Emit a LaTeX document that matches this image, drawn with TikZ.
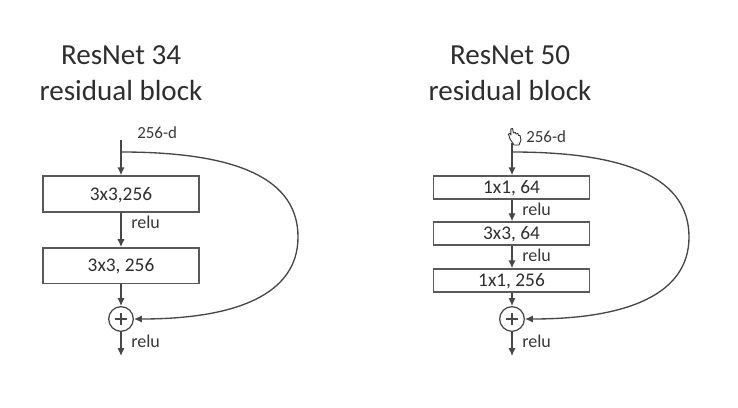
\documentclass[tikz,border=0pt]{standalone}
\usepackage{fontspec}
\setmainfont{Carlito}
\usetikzlibrary{arrows.meta}
\tikzset{
  px/.style={x=0.75pt,y=-0.75pt},
  blockbox/.style={draw=black!65,line width=1pt,minimum width=117pt,inner sep=0pt,font=\fontsize{14.5}{14.5}\selectfont,text=black!82,text height=9.2pt,text depth=0pt},
  conn/.style={draw=black!72,line width=1pt,-{Latex[length=6pt,width=5.5pt]}},
  plain/.style={draw=black!72,line width=0.9pt},
  lbl/.style={font=\fontsize{13.5}{14}\selectfont,text=black!78,inner sep=0pt,anchor=west},
  dlbl/.style={font=\fontsize{12.7}{14}\selectfont,text=black!78,inner sep=0pt,anchor=west},
  ttl/.style={font=\fontsize{21.8}{27}\selectfont,text=black!82,align=center,inner sep=0pt},
  sumnode/.style={circle,draw=black!72,line width=0.95pt,minimum size=18.5pt,inner sep=0pt}
}
\begin{document}
\begin{tikzpicture}[px]
\useasboundingbox (0,0) rectangle (738,407);
% left
\node[ttl] (t1) at (121,73) {ResNet 34\\residual block};
\coordinate (a0) at (121,140);
\coordinate (a1) at (121,152);
\node[dlbl] (ad) at (137,133) {256-d};
\node[blockbox,minimum height=27pt] (a2) at (121,194) {3x3,256};
\node[blockbox,minimum height=26.5pt] (a3) at (121,265.5) {3x3, 256};
\node[sumnode] (as) at (121,319) {};
\draw[plain] ([xshift=-4.5pt]as.center)--([xshift=4.5pt]as.center) ([yshift=-4.5pt]as.center)--([yshift=4.5pt]as.center);
\coordinate (ae) at (121,356);
\draw[conn] (a0)--(a2);
\draw[conn] (a2)--(a3);
\draw[conn] (a3)--(as);
\draw[conn] (as)--(ae);
\node[lbl] (ar1) at (131,222) {relu};
\node[lbl] (ar2) at (131,341) {relu};
\draw[conn] (a1) .. controls (240,152) and (298,180) .. (298,237) .. controls (298,295) and (235,319) .. (as.east);
% right
\node[ttl] (t2) at (510,73) {ResNet 50\\residual block};
\coordinate (b0) at (512,143);
\coordinate (b1) at (512,152);
\node[dlbl] (bd) at (526,137) {256-d};
\node[blockbox,minimum height=17.25pt] (b2) at (511.5,187.5) {1x1, 64};
\node[blockbox,minimum height=17.25pt] (b3) at (511.5,233.5) {3x3, 64};
\node[blockbox,minimum height=17.25pt] (b4) at (511.5,280.5) {1x1, 256};
\node[sumnode] (bs) at (512,319) {};
\draw[plain] ([xshift=-4.5pt]bs.center)--([xshift=4.5pt]bs.center) ([yshift=-4.5pt]bs.center)--([yshift=4.5pt]bs.center);
\coordinate (be) at (512,356);
\draw[conn] (b0)--(b0|-b2.north);
\draw[conn] (b0|-b2.south)--(b0|-b3.north);
\draw[conn] (b0|-b3.south)--(b0|-b4.north);
\draw[conn] (b0|-b4.south)--(bs);
\draw[conn] (bs)--(be);
\node[lbl] (br1) at (522,209) {relu};
\node[lbl] (br2) at (522,255) {relu};
\node[lbl] (br3) at (522,341) {relu};
\draw[conn] (b1) .. controls (631,152) and (689,180) .. (689,237) .. controls (689,295) and (626,319) .. (bs.east);
% cursor
\draw[fill=white,draw=black!80,line width=0.7pt,line join=round] (514,145) -- (510,139) -- (508.5,134) -- (510,133.5) -- (511,135) -- (510.8,129) -- (512.5,128.5) -- (513.5,133) -- (515.5,132.5) -- (516,134) -- (518,133.5) -- (518.5,135.5) -- (520,135.5) -- (521,140) -- (519,145) -- cycle;
\end{tikzpicture}
\end{document}
